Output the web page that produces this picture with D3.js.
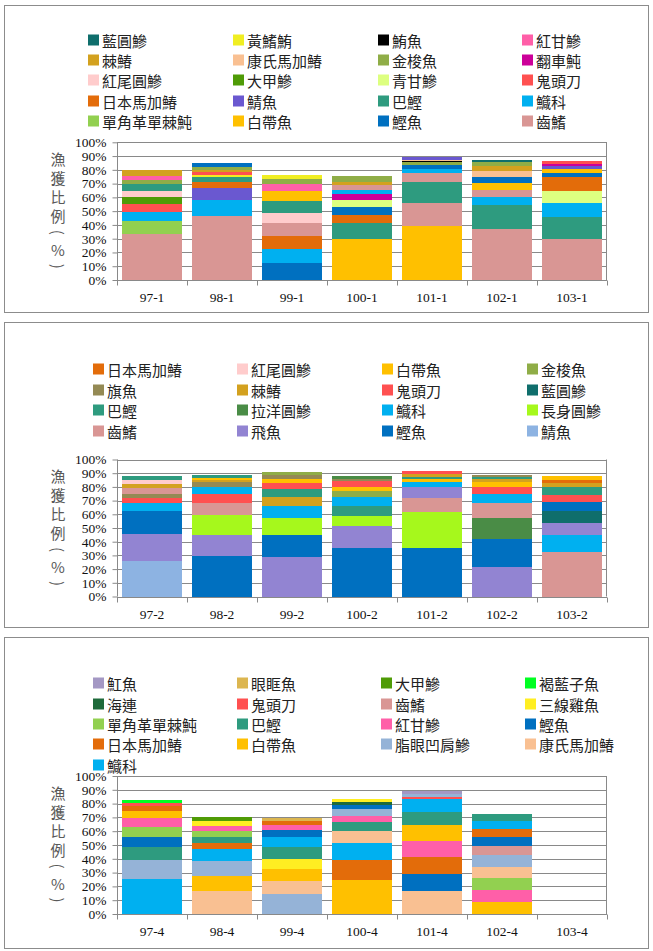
<!DOCTYPE html>
<html><head><meta charset="utf-8">
<script src="https://cdn.jsdelivr.net/npm/d3@7"></script>
<style>body{margin:0;background:#fff}svg{display:block}</style>
</head><body>
<script>
// ---------------- DATA ----------------
const categories1 = ["97-1","98-1","99-1","100-1","101-1","102-1","103-1"];
const legend1 = ["藍圓鰺","黃鰭鮪","鮪魚","紅甘鰺","棘鰆","康氏馬加鰆","金梭魚","翻車魨","紅尾圓鰺","大甲鰺","青甘鰺","鬼頭刀","日本馬加鰆","鯖魚","巴鰹","鱵科","單角革單棘魨","白帶魚","鰹魚","齒鰭"];
const stacks1 = [
  [["齒鰭",33.3],["單角革單棘魨",9.4],["鱵科",6.6],["鬼頭刀",6.0],["大甲鰺",4.8],["紅尾圓鰺",4.5],["巴鰹",5.0],["金梭魚",3.3],["紅甘鰺",2.5],["棘鰆",4.8]],
  [["齒鰭",46.4],["鱵科",11.6],["鯖魚",8.7],["日本馬加鰆",4.8],["巴鰹",3.1],["黃鰭鮪",1.5],["鬼頭刀",2.2],["棘鰆",1.9],["金梭魚",1.5],["鰹魚",3.1]],
  [["鰹魚",12.6],["鱵科",9.9],["日本馬加鰆",9.7],["齒鰭",9.4],["紅尾圓鰺",7.0],["巴鰹",8.6],["白帶魚",7.5],["紅甘鰺",5.1],["金梭魚",3.4],["黃鰭鮪",3.1]],
  [["白帶魚",29.7],["巴鰹",11.6],["日本馬加鰆",5.8],["鰹魚",5.8],["青甘鰺",5.1],["翻車魨",4.6],["鱵科",2.6],["齒鰭",3.6],["棘鰆",2.5],["金梭魚",4.1]],
  [["白帶魚",39.1],["齒鰭",16.7],["巴鰹",15.2],["齒鰭",6.5],["鱵科",3.2],["鰹魚",2.9],["金梭魚",1.9],["鮪魚",0.7],["康氏馬加鰆",1.2],["鯖魚",2.0]],
  [["齒鰭",37.0],["巴鰹",17.3],["鱵科",5.8],["齒鰭",5.1],["白帶魚",5.1],["鰹魚",4.3],["康氏馬加鰆",4.3],["棘鰆",3.7],["金梭魚",2.9],["藍圓鰺",1.5]],
  [["齒鰭",29.7],["巴鰹",16.0],["鱵科",10.1],["青甘鰺",8.7],["日本馬加鰆",10.1],["鰹魚",2.9],["白帶魚",2.9],["鯖魚",2.4],["翻車魨",1.7],["鬼頭刀",1.8]]
];

const categories2 = ["97-2","98-2","99-2","100-2","101-2","102-2","103-2"];
const legend2 = ["日本馬加鰆","紅尾圓鰺","白帶魚","金梭魚","旗魚","棘鰆","鬼頭刀","藍圓鰺","巴鰹","拉洋圓鰺","鱵科","長身圓鰺","齒鰭","飛魚","鰹魚","鯖魚"];
const stacks2 = [
  [["鯖魚",25.9],["飛魚",19.7],["鰹魚",17.0],["鱵科",5.6],["鬼頭刀",3.7],["旗魚",2.9],["齒鰭",4.2],["棘鰆",2.9],["紅尾圓鰺",2.9],["巴鰹",3.0]],
  [["鰹魚",29.6],["飛魚",15.3],["長身圓鰺",14.6],["齒鰭",8.7],["鬼頭刀",6.8],["鱵科",4.9],["旗魚",3.7],["棘鰆",1.4],["白帶魚",1.7],["巴鰹",2.0]],
  [["飛魚",29.1],["鰹魚",15.8],["長身圓鰺",12.4],["鱵科",8.8],["棘鰆",6.5],["巴鰹",5.8],["鬼頭刀",4.4],["白帶魚",3.0],["旗魚",2.9],["金梭魚",2.2]],
  [["鰹魚",35.4],["飛魚",16.1],["長身圓鰺",7.3],["巴鰹",7.3],["鱵科",6.5],["金梭魚",4.4],["白帶魚",2.9],["鬼頭刀",4.4],["旗魚",1.5],["拉洋圓鰺",2.2]],
  [["鰹魚",35.4],["長身圓鰺",26.3],["齒鰭",10.2],["飛魚",8.0],["鱵科",3.7],["白帶魚",2.2],["巴鰹",1.4],["棘鰆",2.2],["鬼頭刀",2.2]],
  [["飛魚",21.5],["鰹魚",20.5],["拉洋圓鰺",15.3],["齒鰭",10.9],["鱵科",6.8],["鬼頭刀",4.9],["白帶魚",3.7],["棘鰆",2.2],["巴鰹",1.4],["旗魚",1.5]],
  [["齒鰭",32.5],["鱵科",12.4],["飛魚",8.7],["藍圓鰺",8.8],["鰹魚",6.6],["鬼頭刀",5.1],["巴鰹",5.8],["棘鰆",2.9],["日本馬加鰆",2.2],["白帶魚",3.0]]
];

const categories3 = ["97-4","98-4","99-4","100-4","101-4","102-4","103-4"];
const legend3 = ["魟魚","眼眶魚","大甲鰺","褐藍子魚","海連","鬼頭刀","齒鰭","三線雞魚","單角革單棘魨","巴鰹","紅甘鰺","鰹魚","日本馬加鰆","白帶魚","脂眼凹肩鰺","康氏馬加鰆","鱵科"];
const stacks3 = [
  [["鱵科",25.4],["脂眼凹肩鰺",13.7],["巴鰹",9.5],["鰹魚",7.4],["單角革單棘魨",7.0],["紅甘鰺",6.6],["白帶魚",5.0],["日本馬加鰆",3.7],["鬼頭刀",2.1],["褐藍子魚",2.2]],
  [["康氏馬加鰆",16.7],["白帶魚",10.8],["脂眼凹肩鰺",10.9],["鱵科",8.7],["日本馬加鰆",4.3],["巴鰹",4.4],["單角革單棘魨",4.3],["紅甘鰺",3.7],["三線雞魚",3.6],["大甲鰺",2.9]],
  [["脂眼凹肩鰺",14.5],["康氏馬加鰆",9.4],["白帶魚",8.7],["三線雞魚",7.3],["巴鰹",8.7],["鱵科",7.2],["鰹魚",5.1],["紅甘鰺",3.6],["日本馬加鰆",2.9],["眼眶魚",2.2]],
  [["白帶魚",24.6],["日本馬加鰆",14.5],["鱵科",12.3],["康氏馬加鰆",8.7],["巴鰹",6.6],["紅甘鰺",4.3],["脂眼凹肩鰺",5.1],["鰹魚",2.9],["海連",2.2],["三線雞魚",2.1]],
  [["康氏馬加鰆",16.7],["鰹魚",12.3],["日本馬加鰆",12.3],["紅甘鰺",11.6],["白帶魚",11.6],["巴鰹",9.4],["鱵科",9.4],["鬼頭刀",1.5],["脂眼凹肩鰺",2.2],["魟魚",2.1]],
  [["白帶魚",8.7],["紅甘鰺",8.7],["單角革單棘魨",8.7],["康氏馬加鰆",8.0],["脂眼凹肩鰺",8.4],["齒鰭",6.8],["鰹魚",6.5],["日本馬加鰆",5.8],["鱵科",5.8],["巴鰹",5.1]],
  []
];

const yTicks = [0,10,20,30,40,50,60,70,80,90,100];
const yTitle = ["漁","獲","比","例","(","%",")"];

// ---------------- STYLES ----------------
const baseColors = {
  "藍圓鰺":"#0f6e6c","黃鰭鮪":"#f0ee22","鮪魚":"#000000","紅甘鰺":"#ff5fa8","棘鰆":"#d3a11f",
  "康氏馬加鰆":"#f9c092","金梭魚":"#8fad47","翻車魨":"#cc0099","紅尾圓鰺":"#ffcccc","大甲鰺":"#4f9b06",
  "青甘鰺":"#ddff80","鬼頭刀":"#ff5050","日本馬加鰆":"#e36c0a","鯖魚":"#6a58d0","巴鰹":"#2e9b7f",
  "鱵科":"#00b0f0","單角革單棘魨":"#92d050","白帶魚":"#ffc000","鰹魚":"#0070c0","齒鰭":"#d99694",
  "旗魚":"#948a54","拉洋圓鰺":"#4a8c46","長身圓鰺":"#a6f81c","飛魚":"#9284d2",
  "魟魚":"#a498c4","眼眶魚":"#dcb650","褐藍子魚":"#00ff22","海連":"#1e6a3a","三線雞魚":"#ffee22","脂眼凹肩鰺":"#95b3d7"
};
const colors1 = baseColors;
const colors2 = Object.assign({}, baseColors, {"鯖魚":"#8db3e2"});
const colors3 = baseColors;

const panels = [
  {frame:[5,312], plot:[142.3,280], cols:[88,233,378,522], rowY:[40,60,80,101,121],
   cats:categories1, legend:legend1, stacks:stacks1, colors:colors1},
  {frame:[322,627], plot:[459.5,596.5], cols:[93,237,382,527], rowY:[369,390,410,431],
   cats:categories2, legend:legend2, stacks:stacks2, colors:colors2},
  {frame:[637,948], plot:[776,914], cols:[93,237,381,525], rowY:[683,704,724,744,765],
   cats:categories3, legend:legend3, stacks:stacks3, colors:colors3}
];

const W = 653, H = 951;
const svg = d3.select("body").append("svg").attr("width", W).attr("height", H);
const gridColor = "#898989";
const cjk = "'Noto Sans CJK TC','Noto Sans CJK SC',sans-serif";
const serif = "'Liberation Serif','DejaVu Serif',serif";

panels.forEach(p => {
  const g = svg.append("g");
  g.append("rect").attr("x",4.5).attr("y",p.frame[0]+0.5).attr("width",644).attr("height",p.frame[1]-p.frame[0])
    .attr("fill","#fff").attr("stroke","#8c8c8c").attr("stroke-width",1);

  const x = d3.scaleBand().domain(p.cats).range([117,607]).paddingInner(1/7).paddingOuter(1/14);
  const y = d3.scaleLinear().domain([0,100]).range([p.plot[1], p.plot[0]]);

  // gridlines
  g.append("g").selectAll("line").data(yTicks).join("line")
    .attr("x1",117).attr("x2",607)
    .attr("y1",d=>Math.round(y(d))+0.5).attr("y2",d=>Math.round(y(d))+0.5)
    .attr("stroke",gridColor).attr("stroke-width",1);

  // bars
  p.stacks.forEach((segs, i) => {
    let acc = 0;
    const data = segs.map(([name, v]) => { const y0 = acc; acc += v; return {name, y0, y1: acc}; });
    g.append("g").selectAll("rect").data(data).join("rect")
      .attr("x", x(p.cats[i])).attr("width", x.bandwidth())
      .attr("y", d => y(d.y1)).attr("height", d => y(d.y0) - y(d.y1))
      .attr("fill", d => p.colors[d.name]).attr("shape-rendering","crispEdges");
  });

  // y axis
  const ya = g.append("g").attr("transform","translate(117.5,0)")
    .call(d3.axisLeft(y).tickValues(yTicks).tickFormat(d => d + "%").tickSize(5).tickPadding(6));
  ya.selectAll("path,line").attr("stroke",gridColor);
  ya.selectAll("text").attr("font-family",serif).attr("font-size",13.5).attr("fill","#111");
  ya.select(".domain").attr("d", `M0,${y(100)}V${y(0)}`);

  // right border
  g.append("line").attr("x1",606.5).attr("x2",606.5).attr("y1",y(100)).attr("y2",y(0))
    .attr("stroke",gridColor);

  // x axis
  const xa = g.append("g").attr("transform",`translate(0,${Math.round(y(0))+0.5})`)
    .call(d3.axisBottom(x).tickSize(0).tickPadding(12));
  xa.select(".domain").attr("stroke",gridColor).attr("d","M117,0H607");
  xa.selectAll("text").attr("font-family",serif).attr("font-size",13.5).attr("fill","#111");
  const bounds = d3.range(p.cats.length + 1).map(k => 117 + k * x.step());
  xa.append("g").selectAll("line").data(bounds).join("line")
    .attr("x1",d=>Math.round(d)+0.5).attr("x2",d=>Math.round(d)+0.5).attr("y1",0).attr("y2",5)
    .attr("stroke",gridColor);

  // y title (stacked characters)
  const yt = g.append("g");
  yTitle.forEach((ch, k) => {
    const cy = y(100) + 16 + k * 19 - (k >= 4 ? 2 + (k-4)*2 : 0);
    const t = yt.append("text").attr("x",58).attr("y",cy)
      .attr("text-anchor","middle").attr("dominant-baseline","central")
      .attr("font-family",cjk).attr("font-size",15).attr("fill","#595959").text(ch);
    if (ch === "(" || ch === ")") t.attr("transform",`rotate(90,58,${cy})`);
  });

  // legend
  const lg = g.append("g");
  p.legend.forEach((name, k) => {
    const cx = p.cols[k % 4], ry = p.rowY[Math.floor(k / 4)];
    lg.append("rect").attr("x",cx).attr("y",ry-5.5).attr("width",11).attr("height",11).attr("fill",p.colors[name]);
    lg.append("text").attr("x",cx+14).attr("y",ry).attr("dominant-baseline","central")
      .attr("font-family",cjk).attr("font-size",15).attr("fill","#222").text(name);
  });
});
</script>
</body></html>
